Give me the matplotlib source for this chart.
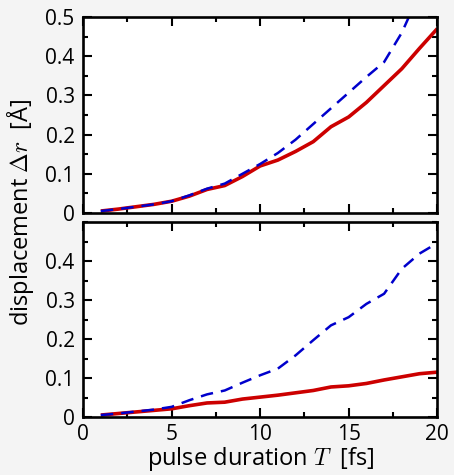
import numpy as np
import matplotlib
matplotlib.use("Agg")
import matplotlib.pyplot as plt
from matplotlib.ticker import MultipleLocator

# pulse duration T [fs]
T = np.arange(1, 21)

# top panel
top_solid = [0.005, 0.010, 0.016, 0.022, 0.030, 0.043, 0.060, 0.070, 0.093, 0.120,
             0.135, 0.157, 0.182, 0.220, 0.245, 0.282, 0.325, 0.368, 0.420, 0.470]
top_dashed = [0.005, 0.010, 0.016, 0.022, 0.030, 0.045, 0.062, 0.075, 0.100, 0.125,
              0.153, 0.187, 0.227, 0.267, 0.307, 0.347, 0.385, 0.460, 0.560, 0.650]

# bottom panel
bot_solid = [0.005, 0.009, 0.013, 0.017, 0.021, 0.029, 0.036, 0.038, 0.046, 0.051,
             0.056, 0.062, 0.068, 0.077, 0.080, 0.086, 0.095, 0.103, 0.111, 0.115]
bot_dashed = [0.005, 0.009, 0.014, 0.019, 0.026, 0.043, 0.058, 0.068, 0.088, 0.107,
              0.124, 0.158, 0.197, 0.235, 0.256, 0.290, 0.316, 0.380, 0.419, 0.446]

plt.rcParams['font.family'] = ['Open Sans', 'DejaVu Sans']
plt.rcParams['mathtext.fontset'] = 'cm'

bg = '#f4f4f4'
fig = plt.figure(figsize=(4.54, 4.75), dpi=100, facecolor=bg)
ax1 = fig.add_axes([0.183, 0.5516, 0.780, 0.4126])
ax2 = fig.add_axes([0.183, 0.1221, 0.780, 0.4105])

for ax, solid, dashed in [(ax1, top_solid, top_dashed), (ax2, bot_solid, bot_dashed)]:
    ax.plot(T, solid, color='#cc0000', lw=2.6, solid_capstyle='butt')
    ax.plot(T, dashed, color='#0000cc', lw=1.8, dashes=(5, 3.2))
    ax.set_xlim(0, 20)
    ax.set_ylim(0, 0.5)
    ax.xaxis.set_major_locator(MultipleLocator(5))
    ax.xaxis.set_minor_locator(MultipleLocator(2.5))
    ax.yaxis.set_major_locator(MultipleLocator(0.1))
    ax.yaxis.set_minor_locator(MultipleLocator(0.05))
    ax.tick_params(which='both', direction='in', top=True, right=True, width=1.5,
                   labelsize=15)
    ax.tick_params(which='major', length=6.5)
    ax.tick_params(which='minor', length=3.5)
    ax.tick_params(axis='y', pad=6)
    ax.tick_params(axis='x', pad=5)
    for s in ax.spines.values():
        s.set_linewidth(1.9)
    ax.yaxis.set_major_formatter(plt.FuncFormatter(lambda v, p: '0' if abs(v) < 1e-9 else f'{v:.1f}'))

ax1.tick_params(labelbottom=False)
ax2.set_yticks([0, 0.1, 0.2, 0.3, 0.4])
ax2.set_xticks([0, 5, 10, 15, 20])
fig.text(0.575, 0.034, 'pulse duration $T$  [fs]', fontsize=17,
         ha='center', va='center')
fig.text(0.046, 0.552, 'displacement $\\Delta r$  [Å]', rotation=90, fontsize=17,
         ha='center', va='center')

fig.savefig('out.png', dpi=100, facecolor=bg)
